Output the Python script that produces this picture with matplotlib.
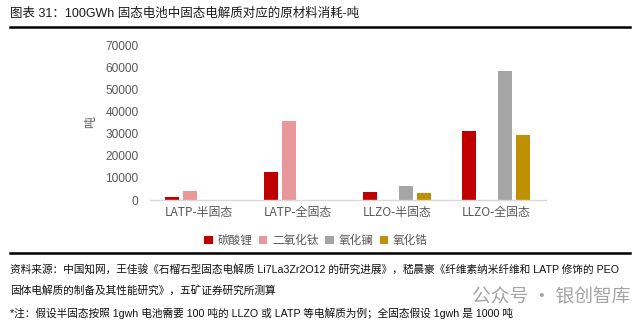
import numpy as np
import matplotlib
matplotlib.use('Agg')
from matplotlib import pyplot as plt
from matplotlib.lines import Line2D
from matplotlib.patches import Patch

plt.rcParams['font.family'] = ['Liberation Sans', 'Noto Sans CJK SC', 'DejaVu Sans']

categories = ['LATP-半固态', 'LATP-全固态', 'LLZO-半固态', 'LLZO-全固态']
series_names = ['碳酸锂', '二氧化钛', '氧化镧', '氧化锆']
li2co3 = [1500, 12800, 3500, 31200]
tio2 = [3900, 35800, 0, 0]
la2o3 = [0, 0, 6200, 58400]
zro2 = [0, 0, 3000, 29500]
yticks = [0, 10000, 20000, 30000, 40000, 50000, 60000, 70000]

title = '图表 31：100GWh 固态电池中固态电解质对应的原材料消耗-吨'
source_lines = [
    '资料来源：中国知网，王佳骏《石榴石型固态电解质 Li7La3Zr2O12 的研究进展》，嵇晨豪《纤维素纳米纤维和 LATP 修饰的 PEO',
    '固体电解质的制备及其性能研究》，五矿证券研究所测算',
    '*注：假设半固态按照 1gwh 电池需要 100 吨的 LLZO 或 LATP 等电解质为例；全固态假设 1gwh 是 1000 吨',
]

colors = ['#C00000', '#E8979A', '#A5A5A5', '#BF9000']
series = [li2co3, tio2, la2o3, zro2]
offsets = [-0.27, -0.09, 0.09, 0.27]

fig = plt.figure(figsize=(6.4, 3.29), dpi=100)
ax = fig.add_axes([0.2336, 0.392, 0.619, 0.471])

x = np.arange(len(categories))
for vals, off, col in zip(series, offsets, colors):
    ax.bar(x + off, vals, width=0.14, color=col, linewidth=0)

ax.set_xlim(-0.5, 3.5)
ax.set_ylim(0, 70000)
ax.set_yticks(yticks)
ax.set_yticklabels([str(v) for v in yticks])
ax.set_xticks(x)
ax.set_xticklabels(categories, family=['Noto Sans CJK SC'])
ax.tick_params(axis='both', length=0, colors='#595959', labelsize=8.6)
ax.tick_params(axis='y', pad=8)
ax.tick_params(axis='x', pad=4)
for s in ['top', 'right', 'left']:
    ax.spines[s].set_visible(False)
ax.spines['bottom'].set_color('#D9D9D9')
ax.spines['bottom'].set_linewidth(1)
ax.set_ylabel('吨', color='#595959', fontsize=8.6, family=['Noto Sans CJK SC'], labelpad=6)

handles = [Patch(facecolor=c, edgecolor='none') for c in colors]
fig.legend(handles, series_names, loc='center', bbox_to_anchor=(0.494, 0.27),
           ncol=4, frameon=False, handlelength=0.7, handleheight=0.7,
           handletextpad=0.4, columnspacing=0.6, labelcolor='#595959',
           prop={'family': ['Noto Sans CJK SC'], 'size': 8.4})

fig.text(0.016, 0.957, title, fontsize=9, color='#1a1a1a', va='center')
fig.add_artist(Line2D([0.016, 0.984], [0.918, 0.918], color='black', lw=1.8))
fig.add_artist(Line2D([0.016, 0.984], [0.231, 0.231], color='black', lw=1.8))

for i, line in enumerate(source_lines):
    fig.text(0.016, 0.183 - i * 0.067, line, fontsize=7.7, color='#111111', va='center')

fig.text(0.985, 0.097, '公众号 · 银创智库', fontsize=13.5, color='#9a9a9a',
         ha='right', va='center', family=['Noto Sans CJK SC'], alpha=0.9)

fig.savefig('out.png', dpi=100, facecolor='white')
